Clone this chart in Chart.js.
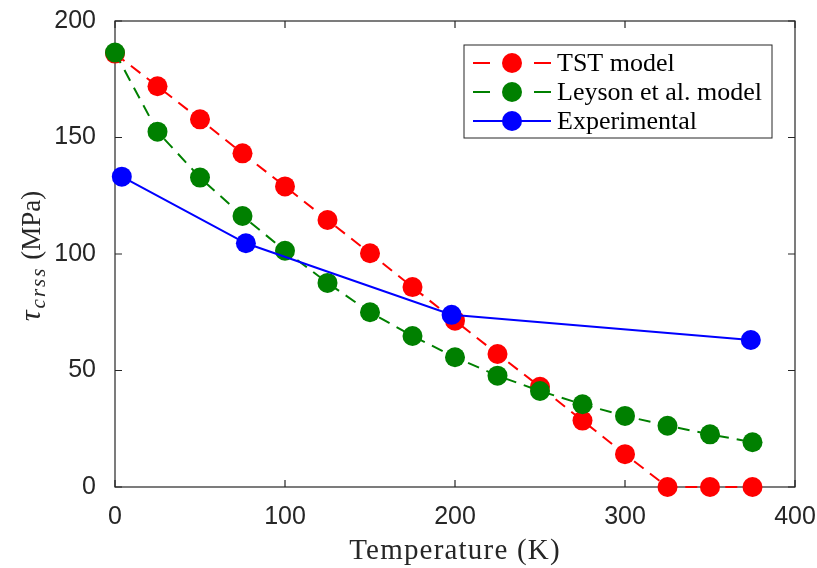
<!DOCTYPE html>
<html>
<head>
<meta charset="utf-8">
<script src="https://cdn.jsdelivr.net/npm/chart.js@4.4.1/dist/chart.umd.min.js"></script>
<style>
  html, body { margin: 0; padding: 0; background: #fff; }
</style>
</head>
<body>
<canvas id="myChart" width="817" height="568"></canvas>
<script>
// data
const temps = [0, 25, 50, 75, 100, 125, 150, 175, 200, 225, 250, 275, 300, 325, 350, 375];
const tstModel = [186, 172, 157.8, 143.2, 129, 114.6, 100.3, 85.8, 71.4, 57.1, 43, 28.5, 14.1, 0, 0, 0];
const leysonModel = [186.5, 152.5, 132.8, 116.3, 101.4, 87.6, 75, 64.8, 55.7, 47.8, 41.2, 35.5, 30.5, 26.3, 22.6, 19.2];
const expTemps = [4, 77, 198, 374];
const expValues = [133.2, 104.6, 73.9, 63.1];
const seriesLabels = ['TST model', 'Leyson et al. model', 'Experimental'];
const xTicks = [0, 100, 200, 300, 400];
const yTicks = [0, 50, 100, 150, 200];

const axisColor = '#262626';
const serif = '"Liberation Serif", "DejaVu Serif", serif';
const sans = '"Liberation Sans", Arial, sans-serif';

function pts(xs, ys) {
  return xs.map((x, i) => ({ x: x, y: ys[i] }));
}

// box + inward ticks, titles and legend
const framePlugin = {
  id: 'frame',
  beforeDatasetsDraw(chart) {
    const { ctx, chartArea: a, scales: { x, y } } = chart;
    ctx.save();
    ctx.strokeStyle = axisColor;
    ctx.lineWidth = 1.2;
    ctx.strokeRect(a.left, a.top, a.right - a.left, a.bottom - a.top);
    ctx.beginPath();
    xTicks.forEach(v => {
      const px = x.getPixelForValue(v);
      ctx.moveTo(px, a.bottom); ctx.lineTo(px, a.bottom - 7);
      ctx.moveTo(px, a.top); ctx.lineTo(px, a.top + 7);
    });
    yTicks.forEach(v => {
      const py = y.getPixelForValue(v);
      ctx.moveTo(a.left, py); ctx.lineTo(a.left + 7, py);
      ctx.moveTo(a.right, py); ctx.lineTo(a.right - 7, py);
    });
    ctx.stroke();
    ctx.restore();
  },
  afterDraw(chart) {
    const { ctx, chartArea: a } = chart;
    ctx.save();
    ctx.fillStyle = axisColor;
    // x title
    ctx.font = '29px ' + serif;
    ctx.letterSpacing = '1.2px';
    ctx.textAlign = 'center';
    ctx.textBaseline = 'alphabetic';
    ctx.fillText('Temperature (K)', (a.left + a.right) / 2, 559);
    ctx.letterSpacing = '0px';
    // y title: tau_crss (MPa)
    ctx.textBaseline = 'middle';
    ctx.translate(33, 256);
    ctx.rotate(-Math.PI / 2);
    const f1 = 'italic 30px ' + serif, f2 = 'italic 21px ' + serif, f3 = '27px ' + serif;
    ctx.font = f1; const w1 = ctx.measureText('\u03c4').width + 2;
    ctx.font = f2; ctx.letterSpacing = '2px'; const w2 = ctx.measureText('crss').width;
    ctx.letterSpacing = '0px';
    ctx.font = f3; const w3 = ctx.measureText(' (MPa)').width;
    let xx = -(w1 + w2 + w3) / 2;
    ctx.textAlign = 'left';
    ctx.font = f1; ctx.fillText('\u03c4', xx, -1); xx += w1;
    ctx.font = f2; ctx.letterSpacing = '2px'; ctx.fillText('crss', xx, 6); xx += w2;
    ctx.letterSpacing = '0px';
    ctx.font = f3; ctx.fillText(' (MPa)', xx, 0);
    ctx.restore();

    // legend
    const ds = chart.data.datasets;
    const order = [2, 1, 0]; // datasets are stored top-drawn first
    const bx = a.right - 331, by = a.top + 24, bw = 308, bh = 93;
    ctx.save();
    ctx.fillStyle = '#fff';
    ctx.fillRect(bx, by, bw, bh);
    ctx.strokeStyle = axisColor;
    ctx.lineWidth = 1;
    ctx.strokeRect(bx, by, bw, bh);
    order.forEach((di, row) => {
      const d = ds[di];
      const cy = by + 18 + row * 29;
      const x0 = bx + 9, x1 = bx + 87, mx = bx + 48;
      ctx.strokeStyle = d.borderColor;
      ctx.lineWidth = 2;
      ctx.beginPath();
      if (d.borderDash && d.borderDash.length) {
        ctx.moveTo(x0, cy); ctx.lineTo(x0 + 17, cy);
        ctx.moveTo(x1 - 17, cy); ctx.lineTo(x1, cy);
      } else {
        ctx.moveTo(x0, cy); ctx.lineTo(x1, cy);
      }
      ctx.stroke();
      ctx.fillStyle = d.backgroundColor;
      ctx.beginPath();
      ctx.arc(mx, cy, 10, 0, Math.PI * 2);
      ctx.fill();
      ctx.fillStyle = '#000';
      ctx.font = '26px ' + serif;
      ctx.textAlign = 'left';
      ctx.textBaseline = 'middle';
      ctx.fillText(d.label, bx + 93, cy + 1);
    });
    ctx.restore();
  }
};

const ctx = document.getElementById('myChart');

const myChart = new Chart(ctx, {
  type: 'line',
  data: {
    datasets: [
      {
        label: seriesLabels[2],
        data: pts(expTemps, expValues),
        borderColor: '#0000ff',
        backgroundColor: '#0000ff',
        borderWidth: 2,
        pointRadius: 10,
        pointBorderWidth: 0,
        order: 0,
        clip: false
      },
      {
        label: seriesLabels[1],
        data: pts(temps, leysonModel),
        borderColor: '#008000',
        backgroundColor: '#008000',
        borderWidth: 2,
        borderDash: [12, 8],
        pointRadius: 10,
        pointBorderWidth: 0,
        order: 1,
        clip: false
      },
      {
        label: seriesLabels[0],
        data: pts(temps, tstModel),
        borderColor: '#ff0000',
        backgroundColor: '#ff0000',
        borderWidth: 2,
        borderDash: [12, 8],
        pointRadius: 10,
        pointBorderWidth: 0,
        order: 2,
        clip: false
      }
    ]
  },
  options: {
    responsive: false,
    animation: false,
    layout: { padding: { left: 0, top: 21, right: 22, bottom: 0 } },
    elements: { line: { tension: 0 } },
    plugins: {
      legend: { display: false },
      tooltip: { enabled: false }
    },
    scales: {
      x: {
        type: 'linear',
        min: 0,
        max: 400,
        afterFit(scale) {
          scale.height = 81;
          scale.paddingLeft = 0;
          scale.paddingRight = 0;
        },
        afterBuildTicks(scale) { scale.ticks = xTicks.map(v => ({ value: v })); },
        grid: { display: false, drawTicks: false },
        border: { display: false },
        ticks: {
          padding: 15,
          color: axisColor,
          font: { family: sans, size: 25 }
        }
      },
      y: {
        min: 0,
        max: 200,
        afterFit(scale) {
          scale.width = 115;
          scale.paddingTop = 0;
          scale.paddingBottom = 0;
        },
        afterBuildTicks(scale) { scale.ticks = yTicks.map(v => ({ value: v })); },
        grid: { display: false, drawTicks: false },
        border: { display: false },
        ticks: {
          padding: 19,
          color: axisColor,
          font: { family: sans, size: 25 }
        }
      }
    }
  },
  plugins: [framePlugin]
});
</script>
</body>
</html>
